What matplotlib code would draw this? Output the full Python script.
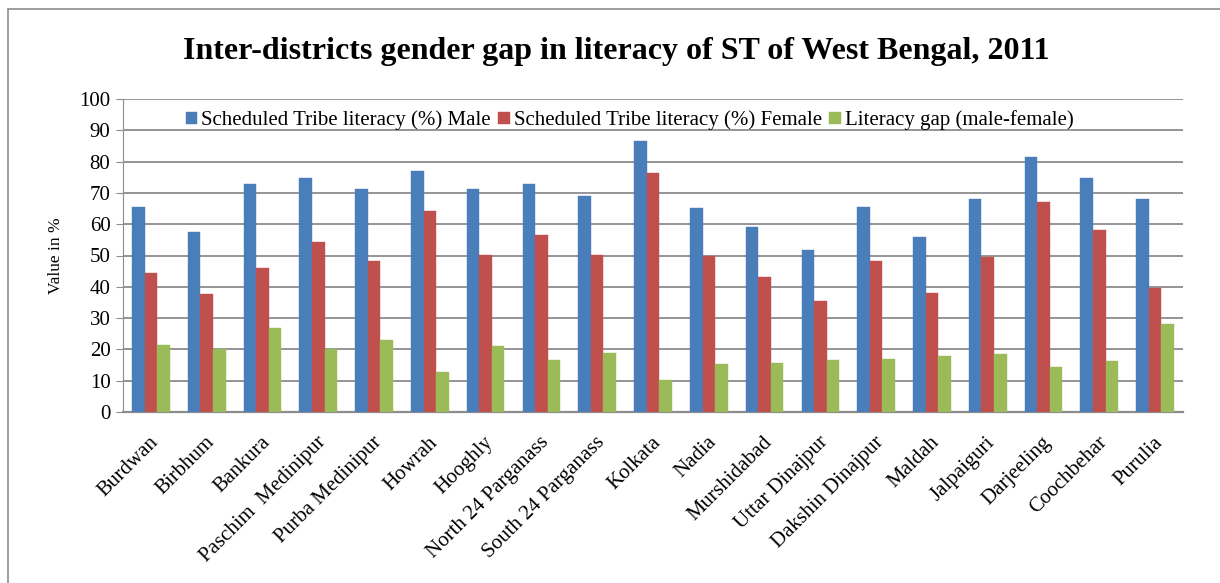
import numpy as np
import matplotlib
matplotlib.use("Agg")
import matplotlib.pyplot as plt
from matplotlib.patches import Rectangle
from matplotlib.transforms import ScaledTranslation

plt.rcParams['font.family'] = ['Liberation Serif', 'DejaVu Serif']

districts = ["Burdwan", "Birbhum", "Bankura", "Paschim  Medinipur", "Purba Medinipur",
             "Howrah", "Hooghly", "North 24 Parganass", "South 24 Parganass", "Kolkata",
             "Nadia", "Murshidabad", "Uttar Dinajpur", "Dakshin Dinajpur", "Maldah",
             "Jalpaiguri", "Darjeeling", "Coochbehar", "Purulia"]
male = [65.4, 57.6, 72.9, 74.7, 71.1, 77.0, 71.4, 72.8, 68.9, 86.7,
        65.2, 59.1, 51.9, 65.4, 55.9, 67.9, 81.4, 74.8, 67.9]
female = [44.3, 37.7, 46.0, 54.4, 48.1, 64.3, 50.2, 56.4, 50.1, 76.5,
          50.0, 43.2, 35.4, 48.4, 37.9, 49.6, 67.1, 58.3, 39.7]
gap = [21.3, 20.0, 26.9, 20.2, 22.9, 12.9, 21.1, 16.5, 18.7, 10.1,
       15.4, 15.7, 16.5, 17.0, 18.0, 18.4, 14.4, 16.4, 28.0]

series = [
    ("Scheduled Tribe literacy (%) Male", male, "#4A7EBB"),
    ("Scheduled Tribe literacy (%) Female", female, "#C0504D"),
    ("Literacy gap (male-female)", gap, "#9BBB59"),
]

fig = plt.figure(figsize=(12.2, 5.83), dpi=100)
ax = fig.add_axes([123 / 1220, 1 - 412 / 583, (1183 - 123) / 1220, (412 - 99) / 583])

# outer chart frame
fig.patches.append(Rectangle((8 / 1220, -0.1), 1.2, 1 - 9 / 583 + 0.1,
                             transform=fig.transFigure, fill=False,
                             edgecolor="#8c8c8c", linewidth=1.2))

x = np.arange(len(districts))
w = 0.225
for i, (label, vals, color) in enumerate(series):
    ax.bar(x + (i - 1) * w, vals, w, color=color, label=label,
           edgecolor=color, linewidth=0.3, zorder=3)

ax.set_xlim(-0.5, len(districts) - 0.5)
ax.set_ylim(0, 100)
ax.set_yticks(range(0, 101, 10))
ax.yaxis.grid(True, color="#8c8c8c", linewidth=1.3, zorder=0)
ax.set_axisbelow(True)
for side in ["top", "right"]:
    ax.spines[side].set_visible(False)
ax.spines["left"].set_color("#8c8c8c")
ax.spines["bottom"].set_color("#8c8c8c")
ax.spines["bottom"].set_linewidth(1.6)
ax.tick_params(axis="y", length=5, color="#8c8c8c", labelsize=15, pad=4)
ax.tick_params(axis="x", length=0, labelsize=15, pad=0)
ax.set_xticks(x)
ax.set_xticklabels(districts, rotation=45, ha="right", va="top", rotation_mode="anchor")
# nudge the slanted district names down so they hang under their group
shift = ScaledTranslation(-2 / 100, -21 / 100, fig.dpi_scale_trans)
for lbl in ax.get_xticklabels():
    lbl.set_transform(lbl.get_transform() + shift)
ax.set_ylabel("Value in %", fontsize=12.5, labelpad=11)

ax.set_title("Inter-districts gender gap in literacy of ST of West Bengal, 2011",
             fontsize=23, fontweight="bold", pad=29, x=0.465)

ax.legend(loc="upper center", bbox_to_anchor=(0.478, 0.99), ncol=3, frameon=False,
          fontsize=15, handlelength=0.55, handleheight=0.55, handletextpad=0.2,
          columnspacing=0.35, borderaxespad=0)

fig.savefig("out.png", dpi=100)
